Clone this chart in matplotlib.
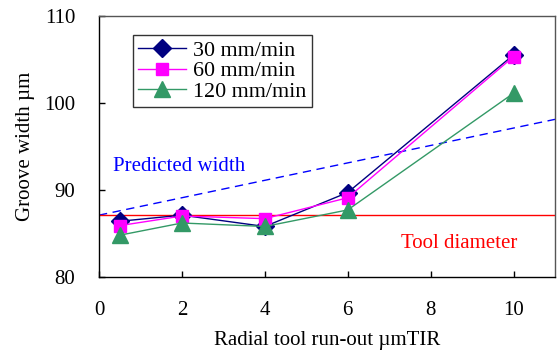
import matplotlib
matplotlib.use("Agg")
import matplotlib.pyplot as plt

plt.rcParams['font.family'] = ['Liberation Serif', 'DejaVu Serif']

runout = [0.5, 2, 4, 6, 10]
w30 = [86.4, 87.1, 85.8, 89.7, 105.5]
w60 = [85.9, 87.0, 86.7, 89.1, 105.3]
w120 = [84.8, 86.2, 85.8, 87.7, 101.1]
pred_x = [0, 11]
pred_y = [87.1, 98.1]
tool_d = 87.1
xticks = [0, 2, 4, 6, 8, 10]
yticks = [80, 90, 100, 110]

fs = 15

fig = plt.figure(figsize=(5.57, 3.51), dpi=100)
ax = fig.add_axes([0.1777, 0.2108, 0.8187, 0.7445])

ax.plot(pred_x, pred_y, color='#0000FF', linestyle=(0, (6, 4)), linewidth=1.0, zorder=2)
ax.axhline(tool_d, color='#FF0000', linewidth=1.0, zorder=2)

ax.plot(runout, w30, color='#000080', linewidth=1.0, marker='D', markersize=9,
        markerfacecolor='#000080', markeredgecolor='#000080', label='30 mm/min', zorder=3)
ax.plot(runout, w60, color='#FF00FF', linewidth=1.0, marker='s', markersize=8,
        markerfacecolor='#FF00FF', markeredgecolor='#FF00FF', label='60 mm/min', zorder=4)
ax.plot(runout, w120, color='#339966', linewidth=1.0, marker='^', markersize=11,
        markerfacecolor='#339966', markeredgecolor='#339966', label='120 mm/min', zorder=5)

ax.set_xlim(0, 11)
ax.set_ylim(80, 110)
ax.set_xticks(xticks)
ax.set_yticks(yticks)
ax.tick_params(direction='in', length=4, labelsize=fs, width=1)
ax.tick_params(axis='x', pad=17)
ax.tick_params(axis='y', pad=17)

for s in ax.spines.values():
    s.set_linewidth(1.0)
ax.spines['top'].set_color('#555555')
ax.spines['right'].set_color('#555555')

ax.set_xlabel('Radial tool run-out µmTIR', fontsize=fs, labelpad=8)
ax.set_ylabel('Groove width µm', fontsize=fs, labelpad=7)

ax.text(0.35, 92.7, 'Predicted width', color='#0000FF', fontsize=fs, va='center', ha='left')
ax.text(10.1, 83.9, 'Tool diameter', color='#FF0000', fontsize=fs, va='center', ha='right')

leg = ax.legend(loc='upper left', bbox_to_anchor=(0.074, 0.925), fontsize=15.8,
                frameon=True, fancybox=False, shadow=False, handlelength=2.2,
                borderpad=0.25, labelspacing=0.0, handletextpad=0.3, borderaxespad=0)
leg.get_frame().set_edgecolor('black')
leg.get_frame().set_linewidth(1.0)

fig.savefig('out.png', dpi=100)
